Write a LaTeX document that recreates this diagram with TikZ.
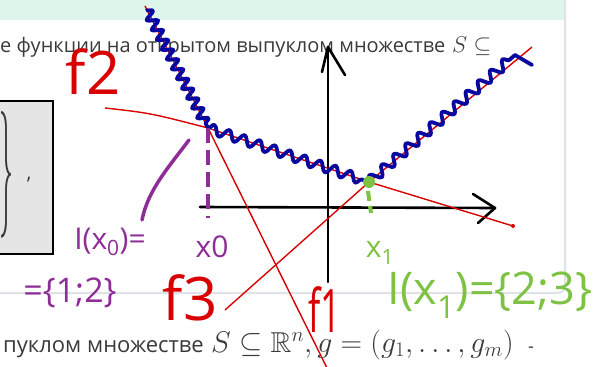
\documentclass[tikz,border=0pt]{standalone}
\usepackage{fontspec}
\usepackage{amssymb}
\usepackage{graphicx}
\setmainfont{Open Sans}
\usetikzlibrary{decorations.pathmorphing,calc}

\definecolor{mint}{HTML}{DDF5EB}
\definecolor{cardgray}{HTML}{DFE2E6}
\definecolor{boxgray}{HTML}{E5E5E5}
\definecolor{textgray}{HTML}{3A3A3A}
\definecolor{inkred}{HTML}{D80000}
\definecolor{inkblue}{HTML}{0808A0}
\definecolor{inkgreen}{HTML}{7DC243}
\definecolor{inkpurple}{HTML}{8E2C98}

\begin{document}
\begin{tikzpicture}[
  x=1pt, y=-1pt,
  pagetext/.style={anchor=base west, inner sep=0pt, text=textgray},
  redline/.style={draw=inkred, line width=1.4pt},
  maxline/.style={draw=inkblue, line width=3.8pt, line cap=round,
    line join=round, decorate,
    decoration={snake, segment length=#1, amplitude=5pt}},
  maxline/.default=16pt,
  axis/.style={line width=2.6pt, line cap=round, line join=round},
  hand/.style={inner sep=0pt, anchor=center}
]
\useasboundingbox (0,0) rectangle (595,367);

% Page behind the sketch
\fill[mint] (0,0) rectangle (565,20);
\draw[cardgray, line width=2pt, rounded corners=7pt] (-5,293) -- (565,293) -- (565,-5);
\draw[fill=boxgray, line width=2.5pt] (-10,101) rectangle (53,254);
\node[inner sep=0pt, text=textgray] (brace) at (7,175)
  {\resizebox{14pt}{95pt}{$\}$}};
\node[inner sep=0pt, text=textgray, font=\fontsize{20}{22}\selectfont] (comma) at (29,180) {,};

\node[pagetext, font=\fontsize{20}{22}\selectfont] (toptext) at (0,52)
  {е функции на открытом выпуклом множестве};
\node[pagetext, font=\fontsize{20}{22}\selectfont] (topmath) at (452,52)
  {\scalebox{1.1}{$S \subseteq$}};
\node[pagetext, font=\fontsize{22}{24}\selectfont] (bottext) at (3,352)
  {пуклом множестве};
\node[pagetext, font=\fontsize{24}{26}\selectfont] (botmath) at (211,352)
  {\scalebox{1.2}{$S \subseteq \mathbb{R}^n, g = (g_1, \ldots, g_m)$}};
\node[pagetext, font=\fontsize{18}{20}\selectfont] (dash) at (528,352) {-};

% Points
\coordinate (x0) at (208,128);
\coordinate (x1) at (369,182);

% Axes
\draw[axis] (200,207) -- (495,208);
\draw[axis] (328,282) -- (328,47);
\draw[axis] (322,72) -- (328,47) -- (345,75);
\draw[axis] (473,194) -- (495,208) -- (478,223);

% Functions
\draw[redline] (145,6) -- (x0) -- (327,368);
\draw[redline] (105,108) .. controls (150,113) .. (x0) -- (x1) -- (513,226);
\draw[redline] (225,310) -- (x1) -- (532,47);
\fill[inkred] (513,226) circle (2);

% Maximum
\draw[maxline=11pt] (147,10) -- (x0);
\draw[maxline] (x0) -- (x1);
\draw[maxline] (x1) -- (515,55);
\draw[inkblue, line width=3.8pt, line cap=round] (515,55) -- (532,65);

% Active set at x0
\draw[inkpurple, line width=4pt, dash pattern=on 15pt off 7pt] (x0) -- (208,218);
\draw[inkpurple, line width=3.5pt, line cap=round] (189,140) .. controls (168,168) and (148,190) .. (142,220);
\node[hand, text=inkpurple, font=\fontsize{30}{32}\selectfont] (lx0) at (212,247) {x0};
\node[hand, text=inkpurple, font=\fontsize{30}{32}\selectfont] (Ix0) at (110,242) {I(x\textsubscript{0})=};
\node[hand, text=inkpurple, font=\fontsize{34}{36}\selectfont] (set0) at (70,293) {=\{1;2\}};

% Active set at x1
\fill[inkgreen] (x1) circle (6);
\draw[inkgreen, line width=4pt, dash pattern=on 10pt off 5pt] ($(x1)+(-1,9)$) -- ($(x1)+(2,31)$);
\node[hand, text=inkgreen, font=\fontsize{30}{32}\selectfont] (lx1) at (380,253) {x\textsubscript{1}};
\node[hand, text=inkgreen, font=\fontsize{45}{48}\selectfont] (Ix1) at (490,295) {I(x\textsubscript{1})=\{2;3\}};

% Labels
\node[hand, text=inkred, font=\fontsize{60}{62}\selectfont] (lf2) at (93,72) {f2};
\node[hand, text=inkred, font=\fontsize{60}{62}\selectfont] (lf3) at (190,298) {f3};
\node[hand, text=inkred, font=\fontsize{60}{62}\selectfont] (lf1) at (325,310) {\scalebox{0.6}[1]{f1}};
\end{tikzpicture}
\end{document}
